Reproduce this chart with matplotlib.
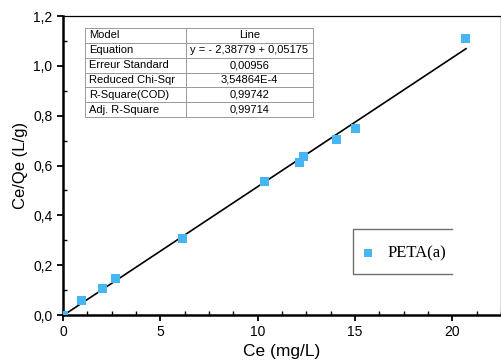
import numpy as np
import matplotlib.pyplot as plt
from matplotlib.ticker import MultipleLocator, FuncFormatter
from matplotlib.lines import Line2D

# data
ce = [0.0, 0.96, 2.02, 2.71, 6.13, 10.33, 12.13, 12.34, 14.05, 15.01, 20.70]
ce_qe = [0.0, 0.060, 0.107, 0.146, 0.308, 0.535, 0.613, 0.637, 0.704, 0.750, 1.111]
slope = 0.05175
intercept = -0.00239
fit_x = [0.0, 20.70]

table_rows = [
    ["Model", "Line"],
    ["Equation", "y = - 2,38779 + 0,05175"],
    ["Erreur Standard", "0,00956"],
    ["Reduced Chi-Sqr", "3,54864E-4"],
    ["R-Square(COD)", "0,99742"],
    ["Adj. R-Square", "0,99714"],
]

plt.rcParams['font.family'] = ['Liberation Sans', 'DejaVu Sans']

fig = plt.figure(figsize=(5.02, 3.64), dpi=100)
ax = fig.add_axes([0.1255, 0.1346, 0.8725, 0.8214])

fit_y = [slope * x + intercept for x in fit_x]
ax.plot(fit_x, fit_y, color='black', lw=1.2, zorder=2)
ax.scatter(ce, ce_qe, marker='s', s=42, color='#45b6f2', edgecolors='none',
           zorder=3, label='PETA(a)')

ax.set_xlim(0, 22.5)
ax.set_ylim(0, 1.2)
ax.xaxis.set_major_locator(MultipleLocator(5))
ax.xaxis.set_minor_locator(MultipleLocator(1.25))
ax.yaxis.set_major_locator(MultipleLocator(0.2))
ax.yaxis.set_minor_locator(MultipleLocator(0.1))
ax.yaxis.set_major_formatter(FuncFormatter(lambda v, p: f"{v:.1f}".replace('.', ',')))
ax.xaxis.set_major_formatter(FuncFormatter(lambda v, p: f"{v:.0f}"))
ax.tick_params(which='major', direction='out', length=4, width=1.3, labelsize=10)
ax.tick_params(which='minor', direction='in', length=3, width=1.0)

for s in ['left', 'bottom']:
    ax.spines[s].set_linewidth(1.8)
for s in ['top', 'right']:
    ax.spines[s].set_linewidth(0.9)

ax.set_xlabel('Ce (mg/L)', fontsize=12.5, labelpad=3)
ax.set_ylabel('Ce/Qe (L/g)', fontsize=12, labelpad=4)

# fit result table
tbl = ax.table(cellText=table_rows, colWidths=[0.23, 0.29], cellLoc='left',
               bbox=[0.050, 0.662, 0.521, 0.298])
tbl.auto_set_font_size(False)
tbl.set_fontsize(8)
for (r, c), cell in tbl.get_celld().items():
    cell.set_edgecolor('#9a9a9a')
    cell.set_linewidth(0.7)
    cell.PAD = 0.04
    if c == 1:
        cell.get_text().set_ha('center')
        cell._loc = 'center'

# legend with a box open on its right side
leg = ax.legend(loc='center left', bbox_to_anchor=(0.678, 0.207), frameon=False,
                borderpad=0, handlelength=1.0, handletextpad=0.65, borderaxespad=0,
                prop={'family': 'Liberation Serif', 'size': 12}, markerscale=0.9)
bx0, bx1, by0, by1 = 0.662, 0.888, 0.137, 0.288
ax.add_line(Line2D([bx1, bx0, bx0, bx1], [by1, by1, by0, by0], transform=ax.transAxes,
                   color='#707070', lw=1.0, zorder=4))

fig.savefig('out.png', dpi=100)
